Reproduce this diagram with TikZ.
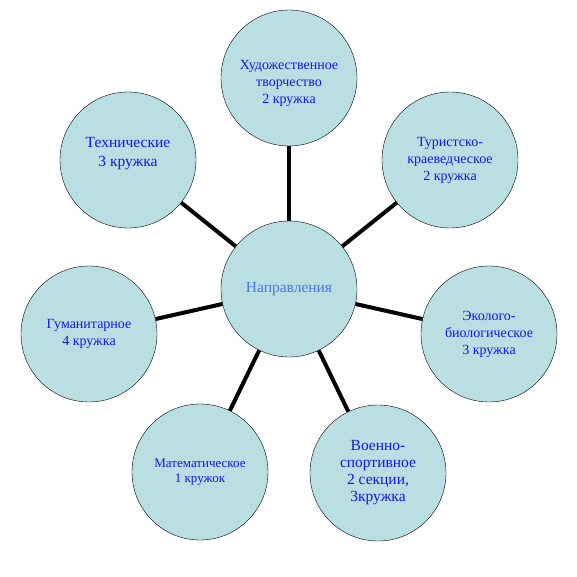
\documentclass[tikz,border=0pt]{standalone}
\usepackage{fontspec}
\setmainfont{Liberation Serif}
\definecolor{bubble}{RGB}{185,223,227}
\definecolor{inkblue}{RGB}{20,20,240}
\definecolor{hubblue}{RGB}{80,115,230}

\begin{document}
\begin{tikzpicture}
[
	x=1pt,y=-1pt,
	bubble/.style={circle,draw,thin,fill=bubble,inner sep=0pt,minimum size=136pt,align=center,text=inkblue,font=\fontsize{14}{17}\selectfont},
	link/.style={line width=4pt,black}
]

	\useasboundingbox (0,0) rectangle (577,577);

	% centre
	\node[bubble,text=hubblue,font=\fontsize{15.5}{19}\selectfont] at (289,289) (hub) {Направления};

	% branches, clockwise from the top
	\node[bubble] at (289,78) (art) {\rule{0pt}{20pt}Художественное\\творчество\\2 кружка};
	\node[bubble] at (450,160) (tour) {Туристско-\\краеведческое\\2 кружка};
	\node[bubble] at (489,334) (eco) {Эколого-\\биологическое\\3 кружка};
	\node[bubble,font=\fontsize{15.5}{17}\selectfont] at (378,473) (mil) {Военно-\\спортивное\\2 секции,\\3кружка};
	\node[bubble,font=\fontsize{13}{15}\selectfont] at (200,472) (math) {Математическое\\1 кружок};
	\node[bubble] at (89,334) (hum) {Гуманитарное\\4 кружка};
	\node[bubble,font=\fontsize{15.5}{19}\selectfont] at (128,160) (tech) {Технические\\3 кружка\\[-3pt]};

	% spokes
	\foreach \b in {art,tour,eco,mil,math,hum,tech} {
		\draw[link] (hub) -- (\b);
	}

\end{tikzpicture}
\end{document}
